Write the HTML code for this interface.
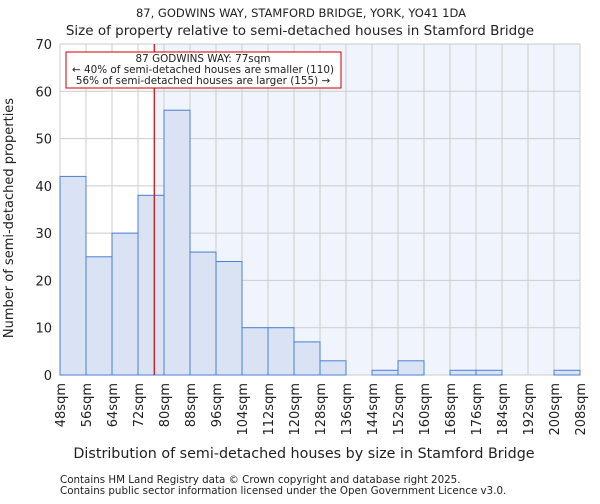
<!DOCTYPE html>
<html><head><meta charset="utf-8"><style>
body{margin:0;background:#fff;font-family:"DejaVu Sans","Liberation Sans",sans-serif}
svg text{font-family:"DejaVu Sans","Liberation Sans",sans-serif;fill:#222}
</style></head><body>
<svg id="c" width="600" height="500" xmlns="http://www.w3.org/2000/svg"></svg>
<script>
const binStarts=[48,56,64,72,80,88,96,104,112,120,128,136,144,152,160,168,176,184,192,200];
const counts=[42,25,30,38,56,26,24,10,10,7,3,0,1,3,0,1,1,0,0,1];
const xTickLabels=["48sqm","56sqm","64sqm","72sqm","80sqm","88sqm","96sqm","104sqm","112sqm","120sqm","128sqm","136sqm","144sqm","152sqm","160sqm","168sqm","176sqm","184sqm","192sqm","200sqm","208sqm"];
const yTicks=[0,10,20,30,40,50,60,70];
const propertySize=77;
const NS="http://www.w3.org/2000/svg";
const svg=document.getElementById('c');
const L=60,R=580,T=44,B=375,x0=48,x1=208,yMax=70;
const xs=v=>L+(v-x0)/(x1-x0)*(R-L);
const ys=v=>B-v/yMax*(B-T);
function mk(t,a,txt){const e=document.createElementNS(NS,t);for(const k in a)e.setAttribute(k,a[k]);if(txt!==undefined)e.textContent=txt;svg.appendChild(e);return e;}
let e;
e=mk('rect',{x:L,y:T,width:xs(propertySize)-L,height:B-T,fill:'#ffffff'});


e=mk('rect',{x:xs(propertySize),y:T,width:R-xs(propertySize),height:B-T,fill:'#f0f4fc'});


yTicks.forEach(v=>{
 e=mk('line',{x1:L,x2:R,y1:ys(v),y2:ys(v),stroke:'#cccccc','stroke-width':1});
 
 
 e=mk('text',{x:L-8,y:ys(v)+5,'text-anchor':'end','font-size':13},v);
 
 
});
xTickLabels.forEach((lab,i)=>{
 const v=x0+i*8;
 e=mk('line',{x1:xs(v),x2:xs(v),y1:T,y2:B,stroke:'#cccccc','stroke-width':1});
 
 
 e=mk('text',{transform:`translate(${xs(v)+5},${B+8}) rotate(-90)`,'text-anchor':'end','font-size':13},lab);
 
 
});
binStarts.forEach((s,i)=>{
 if(counts[i]<=0)return;
 e=mk('rect',{x:xs(s),y:ys(counts[i]),width:xs(s+8)-xs(s),height:B-ys(counts[i]),fill:'#dae3f3',stroke:'#4a7fd4','stroke-width':1});
 
 
});
e=mk('line',{x1:xs(propertySize),x2:xs(propertySize),y1:T,y2:B,stroke:'#cc0000','stroke-width':1.2});


e=mk('rect',{x:66,y:52,width:275,height:36,fill:'#fff',stroke:'#cc0000','stroke-width':1});


[["87 GODWINS WAY: 77sqm",62],["← 40% of semi-detached houses are smaller (110)",73],["56% of semi-detached houses are larger (155) →",84]].forEach(([t,y])=>{
 e=mk('text',{x:203,y:y,'text-anchor':'middle','font-size':10.4},t);
 
 
});
e=mk('text',{x:301,y:17,'text-anchor':'middle','font-size':11.5},"87, GODWINS WAY, STAMFORD BRIDGE, YORK, YO41 1DA");


e=mk('text',{x:300,y:35,'text-anchor':'middle','font-size':13.5},"Size of property relative to semi-detached houses in Stamford Bridge");


e=mk('text',{x:304,y:458,'text-anchor':'middle','font-size':14.3},"Distribution of semi-detached houses by size in Stamford Bridge");


e=mk('text',{transform:'translate(13,218) rotate(-90)','text-anchor':'middle','font-size':13},"Number of semi-detached properties");


e=mk('text',{x:60,y:483,'font-size':10.3,fill:'#444'},"Contains HM Land Registry data © Crown copyright and database right 2025.");


e=mk('text',{x:60,y:494,'font-size':10.3,fill:'#444'},"Contains public sector information licensed under the Open Government Licence v3.0.");


</script>
</body></html>
